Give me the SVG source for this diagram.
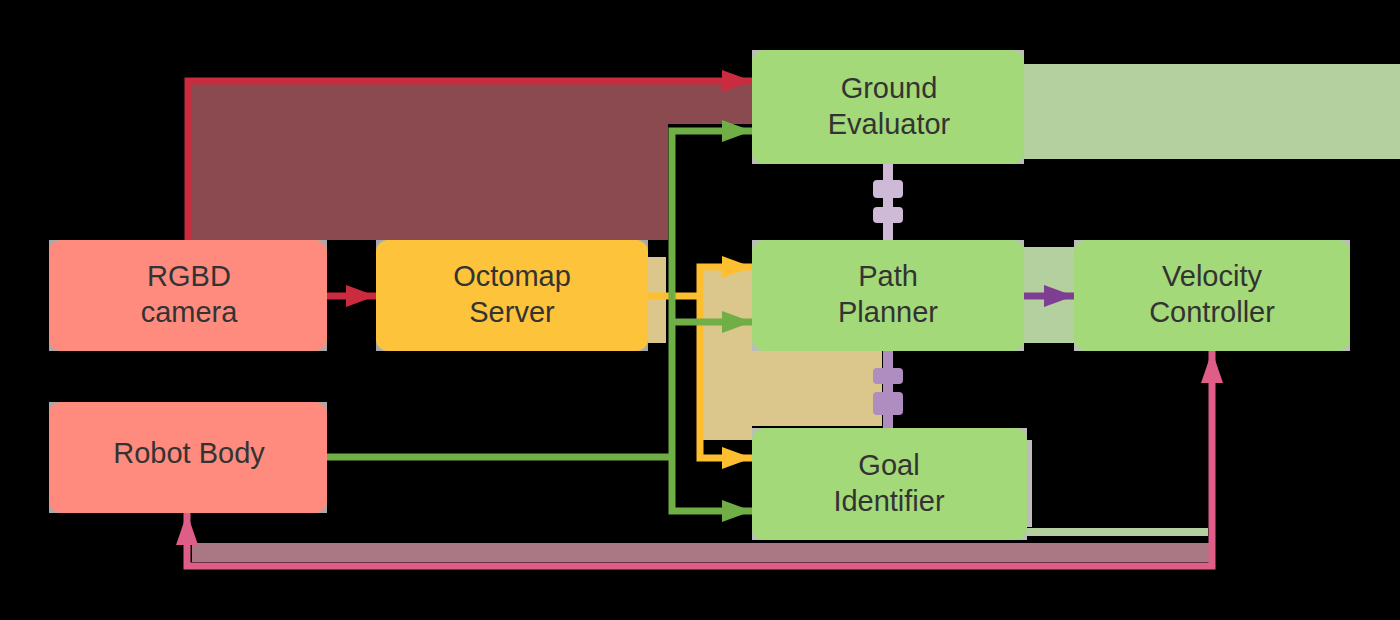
<svg xmlns="http://www.w3.org/2000/svg" width="1400" height="620" viewBox="0 0 1400 620">
<defs>
<style>
.bg{fill:#000}
.halo{fill:#a9a9a9}
.haloG{fill:#bcbcbc}
.salmon{fill:#fe8b7e}
.yellow{fill:#fdc33a}
.green{fill:#a3d978}
.lbl{font-family:"Liberation Sans",Arial,sans-serif;font-size:29px;fill:#333;text-anchor:middle}
.ln{fill:none;stroke-width:7;stroke-linejoin:miter;stroke-linecap:butt}
</style>
<marker id="mRed" viewBox="0 0 30 22" refX="30" refY="11" markerWidth="30" markerHeight="22" markerUnits="userSpaceOnUse" orient="auto"><path d="M0,0L30,11L0,22z" fill="#ca2b3e"/></marker>
<marker id="mGreen" viewBox="0 0 30 22" refX="30" refY="11" markerWidth="30" markerHeight="22" markerUnits="userSpaceOnUse" orient="auto"><path d="M0,0L30,11L0,22z" fill="#70ae46"/></marker>
<marker id="mYellow" viewBox="0 0 30 22" refX="30" refY="11" markerWidth="30" markerHeight="22" markerUnits="userSpaceOnUse" orient="auto"><path d="M0,0L30,11L0,22z" fill="#fdbf2f"/></marker>
<marker id="mPurple" viewBox="0 0 30 22" refX="30" refY="11" markerWidth="30" markerHeight="22" markerUnits="userSpaceOnUse" orient="auto"><path d="M0,0L30,11L0,22z" fill="#7e3e91"/></marker>
<marker id="mPink" viewBox="0 0 32 22" refX="32" refY="11" markerWidth="32" markerHeight="22" markerUnits="userSpaceOnUse" orient="auto-start-reverse"><path d="M0,0L32,11L0,22z" fill="#de5e88"/></marker>
</defs>
<rect class="bg" x="0" y="0" width="1400" height="620"/>
<g id="fills">
<polygon points="189,84 752,84 752,124 668,124 668,240 189,240" fill="#8a4a50"/>
<rect x="648" y="257" width="18" height="86" fill="#dbc68c"/>
<polygon points="703,270 752,270 752,351 882,351 882,426 752,426 752,440 703,440" fill="#dbc68c"/>
<rect x="1024" y="64" width="376" height="95" fill="#b4d09e"/>
<rect x="1024" y="247" width="50" height="96" fill="#b4d09e"/>
<rect x="1027" y="528" width="181" height="8" fill="#b4d09e"/>
<rect x="192" y="543" width="1017" height="19" fill="#a97884"/>
</g>
<g id="connectors">
<path class="ln" d="M188,240V81H752" stroke="#ca2b3e" marker-end="url(#mRed)"/>
<path class="ln" d="M327,296H376" stroke="#ca2b3e" marker-end="url(#mRed)"/>
<path class="ln" d="M648,296H700" stroke="#fdbf2f"/>
<path class="ln" d="M700,296V267H752" stroke="#fdbf2f" marker-end="url(#mYellow)"/>
<path class="ln" d="M700,296V458H752" stroke="#fdbf2f" marker-end="url(#mYellow)"/>
<path class="ln" d="M327,457H672" stroke="#70ae46"/>
<path class="ln" d="M672,457V131H752" stroke="#70ae46" marker-end="url(#mGreen)"/>
<path class="ln" d="M672,322H752" stroke="#70ae46" marker-end="url(#mGreen)"/>
<path class="ln" d="M672,457V511H752" stroke="#70ae46" marker-end="url(#mGreen)"/>
<path class="ln" d="M1024,296H1074" stroke="#7e3e91" marker-end="url(#mPurple)"/>
<path class="ln" d="M1212,351V566H187V513" stroke="#de5e88" marker-start="url(#mPink)" marker-end="url(#mPink)"/>
<g fill="#ceb9d6">
<rect x="883" y="164" width="10" height="76"/>
<rect x="873" y="180" width="30" height="18" rx="4"/>
<rect x="873" y="207" width="30" height="16" rx="4"/>
</g>
<g fill="#af8dc1">
<rect x="883" y="351" width="10" height="77"/>
<rect x="873" y="368" width="30" height="16" rx="4"/>
<rect x="873" y="392" width="30" height="23" rx="4"/>
</g>
</g>
<g id="rgbd-camera">
<rect class="halo" x="49" y="240" width="278" height="111"/>
<rect class="salmon" x="49" y="240" width="278" height="111" rx="12"/>
<text class="lbl" x="189" y="286">RGBD</text>
<text class="lbl" x="189" y="322">camera</text>
</g>
<g id="octomap-server">
<rect class="halo" x="376" y="240" width="272" height="111"/>
<rect class="yellow" x="376" y="240" width="272" height="111" rx="12"/>
<text class="lbl" x="512" y="286">Octomap</text>
<text class="lbl" x="512" y="322">Server</text>
</g>
<g id="robot-body">
<rect class="halo" x="49" y="402" width="278" height="111"/>
<rect class="salmon" x="49" y="402" width="278" height="111" rx="12"/>
<text class="lbl" x="189" y="463">Robot Body</text>
</g>
<g id="ground-evaluator">
<rect class="haloG" x="752" y="50" width="272" height="114"/>
<rect class="green" x="752" y="50" width="272" height="114" rx="12"/>
<text class="lbl" x="889" y="98">Ground</text>
<text class="lbl" x="889" y="134">Evaluator</text>
</g>
<g id="path-planner">
<rect class="haloG" x="752" y="240" width="272" height="111"/>
<rect class="green" x="752" y="240" width="272" height="111" rx="12"/>
<text class="lbl" x="888" y="286">Path</text>
<text class="lbl" x="888" y="322">Planner</text>
</g>
<g id="velocity-controller">
<rect class="haloG" x="1074" y="240" width="276" height="111"/>
<rect class="green" x="1074" y="240" width="276" height="111" rx="12"/>
<text class="lbl" x="1212" y="286">Velocity</text>
<text class="lbl" x="1212" y="322">Controller</text>
</g>
<g id="goal-identifier">
<rect class="haloG" x="1024" y="440" width="8" height="87"/>
<rect class="haloG" x="752" y="428" width="275" height="112"/>
<rect class="green" x="752" y="428" width="275" height="112" rx="12"/>
<text class="lbl" x="889" y="475">Goal</text>
<text class="lbl" x="889" y="511">Identifier</text>
</g>
</svg>
